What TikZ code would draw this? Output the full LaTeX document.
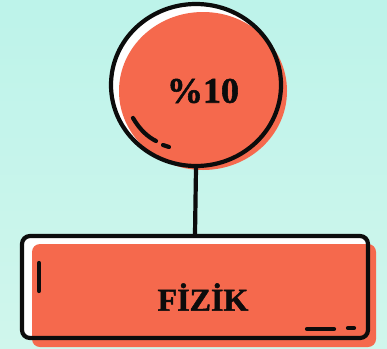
\documentclass[tikz,border=0pt]{standalone}
\usepackage{fontspec}
\setmainfont{Liberation Serif}
\newfontfamily\labelfont[FakeBold=1.5]{Liberation Serif Bold}
\usetikzlibrary{shapes.geometric}
\definecolor{coral}{RGB}{245,105,77}
\definecolor{bgtop}{RGB}{189,243,234}
\definecolor{bgbot}{RGB}{208,246,236}
\definecolor{ink}{RGB}{12,12,12}
\tikzset{
  outline/.style={draw=ink, line width=4.2pt},
  mark stroke/.style={draw=ink, line width=4.2pt, line cap=round},
  labeltext/.style={text=ink}
}
\begin{document}
\begin{tikzpicture}[x=1pt,y=-1pt]
\shade[top color=bgtop, bottom color=bgbot] (0,0) rectangle (387,348);
\useasboundingbox (0,0) rectangle (387,348);
% circle
\fill[white] (196,85) ellipse [x radius=85, y radius=81];
\fill[coral] (203,91) ellipse [x radius=84, y radius=79];
\node[ellipse, outline, minimum width=170pt, minimum height=162pt, inner sep=0pt] (c) at (196,85) {};
\node[labeltext, font=\labelfont\fontsize{36}{36}\selectfont] (ct) at (203,91) {\%10};
\draw[mark stroke] (133,118) .. controls (140,130) and (148,137) .. (156,141);
\draw[mark stroke] (163,145) -- (169,147);
% box
\fill[white, rounded corners=8pt] (22,236) rectangle (368,338);
\fill[coral, rounded corners=8pt] (32,244) rectangle (376,347);
\node[outline, rounded corners=8pt, minimum width=346pt, minimum height=102pt, inner sep=0pt] (b) at (195,287) {};
\node[labeltext, font=\labelfont\fontsize{32}{32}\selectfont] (bt) at (203,297) {FİZİK};
\draw[mark stroke] (39,263) -- (39,291);
\draw[mark stroke] (307,329) -- (334,329);
\draw[mark stroke] (348,328) -- (354,328);
% connector
\draw[draw=ink, line width=4.2pt] (c.south) -- (b.north);
\end{tikzpicture}
\end{document}
